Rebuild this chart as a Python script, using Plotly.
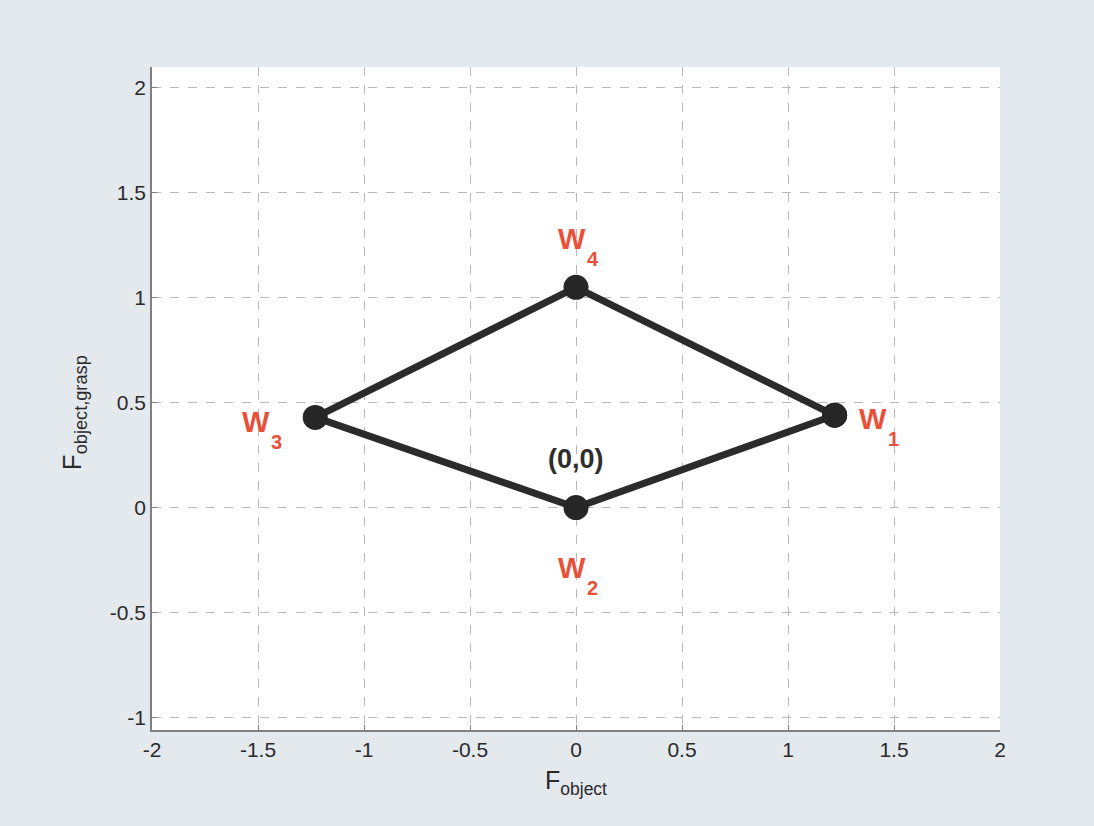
import plotly.graph_objects as go

# Vertex coordinates of the grasp polygon (W1 -> W4 -> W3 -> W2 -> W1)
vertex_names = ["W1", "W4", "W3", "W2"]
vertex_x = [1.22, 0.0, -1.23, 0.0]
vertex_y = [0.44, 1.05, 0.43, 0.0]

# Subscript index for each vertex label and its offset from the vertex (data units)
label_index = ["1", "4", "3", "2"]
label_dx = [0.18, -0.02, -0.28, -0.02]
label_dy = [-0.02, 0.23, -0.02, -0.29]

origin_label = "(0,0)"

tick_vals_x = [-2, -1.5, -1, -0.5, 0, 0.5, 1, 1.5, 2]
tick_vals_y = [-1, -0.5, 0, 0.5, 1, 1.5, 2]

poly_x = vertex_x + [vertex_x[0]]
poly_y = vertex_y + [vertex_y[0]]

FONT = "Liberation Sans, Arial, Helvetica"
RED = "#e8503a"
INK = "#2a2a2a"

fig = go.Figure()
fig.add_trace(go.Scatter(
    x=poly_x, y=poly_y, mode="lines+markers",
    line=dict(color="#2b2b2b", width=7),
    marker=dict(size=25, color="#262626"),
    hoverinfo="skip", showlegend=False,
))

# "W" with a dropped subscript index next to each vertex
for x, y, idx, dx, dy in zip(vertex_x, vertex_y, label_index, label_dx, label_dy):
    fig.add_annotation(
        x=x + dx, y=y + dy, text="<b>W</b>", showarrow=False,
        xanchor="center", yanchor="middle",
        font=dict(family=FONT, size=29, color=RED),
    )
    fig.add_annotation(
        x=x + dx, y=y + dy, text="<b>" + idx + "</b>", showarrow=False,
        xanchor="center", yanchor="middle", xshift=21, yshift=-20,
        font=dict(family=FONT, size=20, color=RED),
    )

fig.add_annotation(
    x=0.0, y=0.23, text="<b>" + origin_label + "</b>", showarrow=False,
    font=dict(family=FONT, size=27, color="#2e2e2e"),
)

# Vertical axis title
fig.add_annotation(
    xref="paper", yref="paper", x=-0.093, y=0.478,
    text="F<sub>object,grasp</sub>", textangle=-90, showarrow=False,
    xanchor="center", yanchor="middle",
    font=dict(family=FONT, size=26, color=INK),
)

fig.update_layout(
    width=1094, height=826,
    margin=dict(l=152, r=94, t=67, b=96),
    paper_bgcolor="#e4e9ee",
    plot_bgcolor="#ffffff",
    xaxis=dict(
        range=[-2, 2], tickvals=tick_vals_x,
        ticktext=[f"{v:g}" for v in tick_vals_x],
        showgrid=True, gridcolor="#b8b8b8", griddash="dash", gridwidth=1,
        zeroline=False, showline=True, linecolor="#808080", linewidth=1.5,
        ticks="inside", ticklen=5, tickcolor="#808080",
        tickfont=dict(family=FONT, size=21, color=INK),
        title=dict(text="F<sub>object</sub>", standoff=12,
                   font=dict(family=FONT, size=25, color=INK)),
    ),
    yaxis=dict(
        range=[-1.06, 2.1], tickvals=tick_vals_y,
        ticktext=[f"{v:g}" for v in tick_vals_y],
        showgrid=True, gridcolor="#b8b8b8", griddash="dash", gridwidth=1,
        zeroline=False, showline=True, linecolor="#808080", linewidth=1.5,
        ticks="inside", ticklen=5, tickcolor="#808080",
        tickfont=dict(family=FONT, size=21, color=INK),
    ),
)

fig.write_html("out.html")
